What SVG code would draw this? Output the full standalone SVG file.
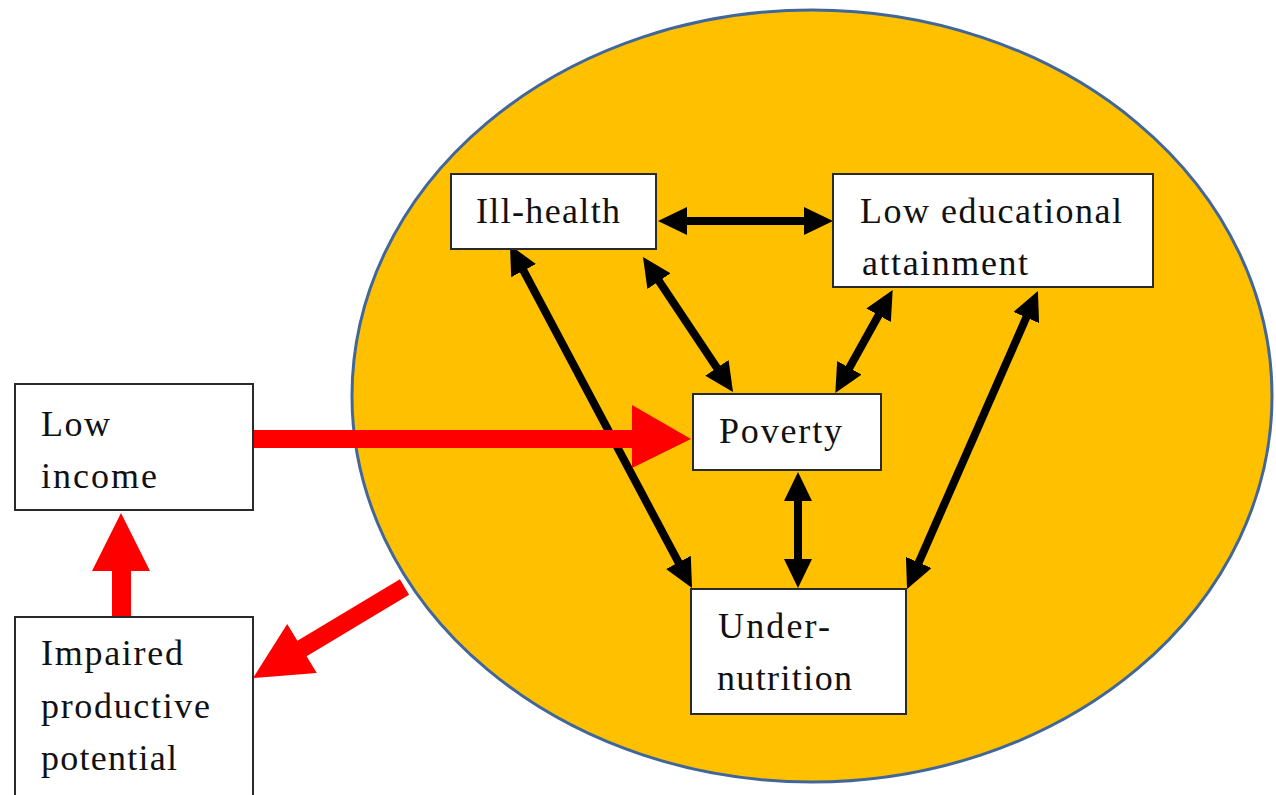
<svg xmlns="http://www.w3.org/2000/svg" width="1276" height="795" viewBox="0 0 1276 795">
  <style>
    .box { fill: #ffffff; stroke: #2a2a2a; stroke-width: 2; }
    .lbl { font-size: 36px; fill: #111111; }
    .link { stroke: #000000; stroke-width: 8; fill: none; marker-start: url(#head); marker-end: url(#head); }
    .red { fill: #ff0000; stroke: none; }
  </style>
  <defs>
    <marker id="head" markerUnits="userSpaceOnUse" markerWidth="29" markerHeight="28" viewBox="0 0 29 28" refX="14" refY="14" orient="auto-start-reverse">
      <path d="M0,0 L29,14 L0,28 z" fill="#000000"/>
    </marker>
  </defs>

  <rect width="1276" height="795" fill="#ffffff"/>

  <!-- cycle background -->
  <ellipse id="cycle" cx="812" cy="396" rx="460" ry="386" fill="#ffc000" stroke="#41679a" stroke-width="3"/>

  <!-- connectors -->
  <g id="connectors">
    <line class="link" x1="673" y1="221" x2="818" y2="221"/>
    <line class="link" x1="517" y1="258.3" x2="685" y2="574.7"/>
    <line class="link" x1="651.3" y1="269.5" x2="724.7" y2="379.5"/>
    <line class="link" x1="885.4" y1="303" x2="842.6" y2="380"/>
    <line class="link" x1="1031.9" y1="304.7" x2="913.1" y2="575.3"/>
    <line class="link" x1="798" y1="487" x2="798" y2="573"/>

    <!-- red flow arrows -->
    <polygon class="red" points="253,430 632,430 632,405 691,439 632,468 632,448 253,448"/>
    <polygon class="red" points="112,617 112,571 92,571 121,513 150,571 131,571 131,617"/>
    <polygon class="red" points="399.9,579.3 297.4,640.8 287.2,623.9 253,678 316.8,673.1 306.6,656.2 409.1,594.7"/>
  </g>

  <g font-family="Liberation Serif, Times New Roman, serif">
    <g id="ill-health">
      <rect class="box" x="451" y="174" width="205" height="75"/>
      <text class="lbl" x="476" y="223" textLength="144">Ill-health</text>
    </g>

    <g id="low-education">
      <rect class="box" x="833" y="174" width="320" height="113"/>
      <text class="lbl" x="860" y="223" textLength="262">Low educational</text>
      <text class="lbl" x="862" y="275" textLength="166">attainment</text>
    </g>

    <g id="poverty">
      <rect class="box" x="693" y="394" width="188" height="76"/>
      <text class="lbl" x="719" y="443" textLength="123">Poverty</text>
    </g>

    <g id="under-nutrition">
      <rect class="box" x="691" y="589" width="215" height="125"/>
      <text class="lbl" x="718" y="638" textLength="112">Under-</text>
      <text class="lbl" x="717" y="690" textLength="135">nutrition</text>
    </g>

    <g id="low-income">
      <rect class="box" x="15" y="384" width="238" height="126"/>
      <text class="lbl" x="41" y="436" textLength="69">Low</text>
      <text class="lbl" x="41" y="488" textLength="116">income</text>
    </g>

    <g id="impaired-potential">
      <rect class="box" x="15" y="617" width="238" height="200"/>
      <text class="lbl" x="41" y="665" textLength="142">Impaired</text>
      <text class="lbl" x="41" y="718" textLength="169">productive</text>
      <text class="lbl" x="41" y="770" textLength="136">potential</text>
    </g>
  </g>
</svg>
